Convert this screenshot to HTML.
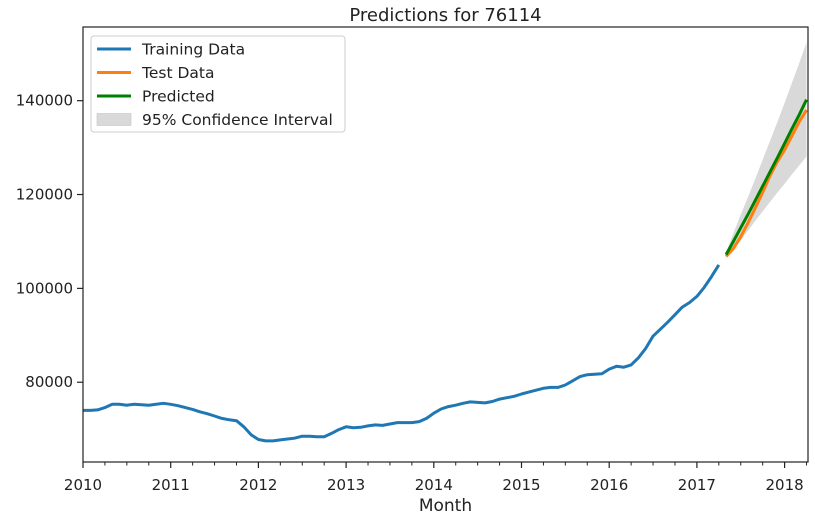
<!DOCTYPE html>
<html><head><meta charset="utf-8"><style>
body{margin:0;background:#fff;font-family:"Liberation Sans","DejaVu Sans",sans-serif;}
svg text{font-family:"DejaVu Sans","Liberation Sans",sans-serif;fill:#222;}
</style></head><body>
<svg id="c" width="815" height="521"></svg>
<script>
const trainValues=[74000,74000,74100,74600,75300,75300,75100,75300,75200,75100,75300,75500,
75300,75000,74600,74200,73700,73300,72800,72300,72000,71800,70500,68800,
67800,67500,67500,67700,67900,68100,68500,68500,68400,68400,69100,69900,
70500,70300,70400,70700,70900,70800,71100,71400,71400,71400,71600,72300,
73400,74300,74800,75100,75500,75800,75700,75600,75900,76400,76700,77000,
77500,77900,78300,78700,78900,78900,79400,80300,81200,81600,81700,81800,
82800,83400,83200,83700,85200,87200,89800,91300,92800,94400,96000,97000,
98300,100200,102500,105000];
const testValues=[106800,108500,111000,114000,117200,120500,124000,127000,129500,132500,135500,138000];
const predValues=[107200,110000,112900,115800,118800,121800,124800,127800,130900,134000,137000,140200];
const ciLower=[106700,108300,110200,112300,114400,116400,118400,120400,122300,124300,126200,128100];
const ciUpper=[107700,111800,115700,119500,123400,127400,131400,135400,139500,143800,148000,152400];
const yTicks=[80000,100000,120000,140000];
const xTickYears=[2010,2011,2012,2013,2014,2015,2016,2017,2018];
const NS="http://www.w3.org/2000/svg",svg=document.getElementById('c');
const L=83,R=808,T=27,B=462;
const xMin=2010,xMax=2010+(R-L)/87.7;
const yMin=63000,yMax=155700;
const X=t=>L+(t-xMin)/(xMax-xMin)*(R-L);
const Y=v=>B-(v-yMin)/(yMax-yMin)*(B-T);
const mt=i=>2010+i/12;
function el(tag,attrs,parent){const e=document.createElementNS(NS,tag);for(const k in attrs)e.setAttribute(k,attrs[k]);(parent||svg).appendChild(e);return e;}
const clip=el('clipPath',{id:'pc'});el('rect',{x:L,y:T,width:R-L,height:B-T},clip);
const g=el('g',{'clip-path':'url(#pc)'});
let d='';const off=trainValues.length+1;
ciUpper.forEach((v,i)=>{d+=(i?'L':'M')+X(mt(off-1+i))+','+Y(v);});
for(let i=ciLower.length-1;i>=0;i--)d+='L'+X(mt(off-1+i))+','+Y(ciLower[i]);
const band=el('path',{d:d+'Z',fill:'#d9d9d9'},g);


function line(vals,start,color,name){const p=vals.map((v,i)=>(i?'L':'M')+X(mt(start+i)).toFixed(1)+','+Y(v).toFixed(1)).join('');
const e=el('path',{d:p,fill:'none',stroke:color,'stroke-width':3,'stroke-linejoin':'round'},g);

}
line(trainValues,0,'#1f77b4','training-line');
line(testValues,off-1,'#ff7f0e','test-line');
line(predValues,off-1,'#008000','predicted-line');
el('rect',{x:L,y:T,width:R-L,height:B-T,fill:'none',stroke:'#222','stroke-width':1.2});
yTicks.forEach(v=>{const y=Y(v);el('line',{x1:L-6,x2:L,y1:y,y2:y,stroke:'#222','stroke-width':1.2});
const t=el('text',{x:L-10,y:y+5,'text-anchor':'end','font-size':15});t.textContent=v;

});
for(let m=0;m<=99;m+=3){const x=X(mt(m));if(x>R+0.5)break;const major=m%12===0;
el('line',{x1:x,x2:x,y1:B,y2:B+(major?6:3.5),stroke:'#222','stroke-width':major?1.2:1});}
xTickYears.forEach(yv=>{const t=el('text',{x:X(yv),y:B+28,'text-anchor':'middle','font-size':15});t.textContent=yv;

});
const xt=el('text',{x:(L+R)/2,y:511,'text-anchor':'middle','font-size':17});xt.textContent='Month';


const tt=el('text',{x:(L+R)/2,y:21,'text-anchor':'middle','font-size':18});tt.textContent='Predictions for 76114';


const lg=el('g',{});


el('rect',{x:91,y:36,width:254,height:96,rx:3,fill:'#fff','fill-opacity':0.85,stroke:'#ccc'},lg);
[['Training Data','#1f77b4'],['Test Data','#ff7f0e'],['Predicted','#008000'],['95% Confidence Interval',null]].forEach((it,i)=>{
const y=49+i*23.5;
if(it[1])el('line',{x1:97,x2:131,y1:y,y2:y,stroke:it[1],'stroke-width':3},lg);
else el('rect',{x:97,y:y-6,width:34,height:12,fill:'#d9d9d9',stroke:'#bbb','stroke-width':0.5},lg);
const t=el('text',{x:142,y:y+5.5,'font-size':15.5},lg);t.textContent=it[0];

});
</script>
</body></html>
